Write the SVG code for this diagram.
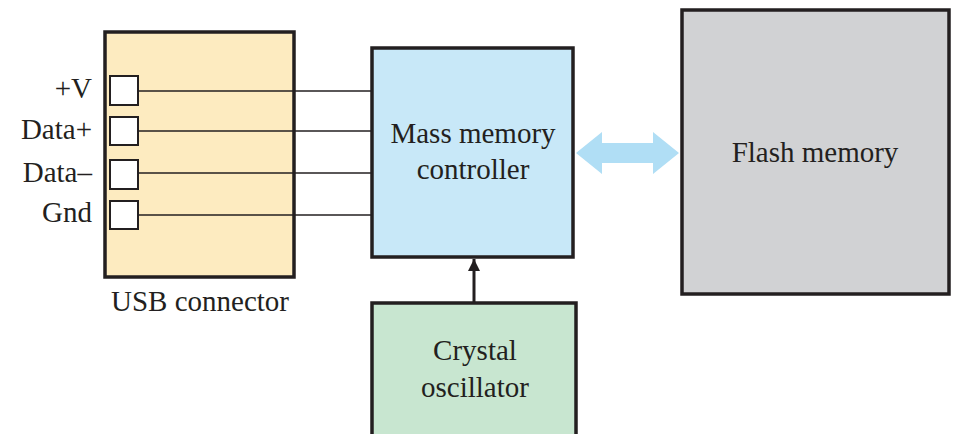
<svg xmlns="http://www.w3.org/2000/svg" width="956" height="434" viewBox="0 0 956 434" font-family="Liberation Serif, DejaVu Serif, serif" font-size="29" fill="#231f20">
<style>
.box{stroke:#231f20;stroke-width:3.5}
.pin{fill:#fff;stroke:#231f20;stroke-width:2}
.wire{stroke:#231f20;stroke-width:1.6;fill:none}
.c{text-anchor:middle}
.r{text-anchor:end}
</style>
<defs>
<marker id="ah" viewBox="0 0 12 16" refX="12" refY="8" markerWidth="12" markerHeight="16" markerUnits="userSpaceOnUse" orient="auto">
<path d="M0,2 L12,8 L0,14 Z" fill="#231f20"/>
</marker>
</defs>
<g id="usb">
<rect class="box" x="105" y="32" width="189" height="245" fill="#fdebc0"/>
<rect class="pin" x="110" y="76" width="28" height="29"/>
<rect class="pin" x="110" y="117" width="28" height="28"/>
<rect class="pin" x="110" y="160" width="28" height="29"/>
<rect class="pin" x="110" y="201" width="28" height="28"/>
<text class="r" x="92" y="98">+V</text>
<text class="r" x="92" y="139">Data+</text>
<text class="r" x="92" y="182">Data–</text>
<text class="r" x="92" y="222">Gnd</text>
<text class="c" x="200" y="311">USB connector</text>
</g>
<g id="controller">
<rect class="box" x="372" y="48" width="201" height="209" fill="#c8e8f8"/>
<text class="c" x="473" y="143">Mass memory</text>
<text class="c" x="473" y="179">controller</text>
</g>
<g id="flash">
<rect class="box" x="682" y="10" width="267" height="284" fill="#d1d2d4"/>
<text class="c" x="815" y="162">Flash memory</text>
</g>
<g id="crystal">
<rect class="box" x="372" y="303" width="204" height="140" fill="#c8e6d0"/>
<text class="c" x="475" y="360">Crystal</text>
<text class="c" x="475" y="397">oscillator</text>
</g>
<g id="connectors">
<line class="wire" x1="138" y1="91" x2="372" y2="91"/>
<line class="wire" x1="138" y1="131" x2="372" y2="131"/>
<line class="wire" x1="138" y1="173" x2="372" y2="173"/>
<line class="wire" x1="138" y1="215" x2="372" y2="215"/>
<line x1="474" y1="302" x2="474" y2="259" stroke="#231f20" stroke-width="3" marker-end="url(#ah)"/>
<path d="M576,153 L602,132 L602,143 L653,143 L653,132 L679,153 L653,174 L653,163 L602,163 L602,174 Z" fill="#b0def5"/>
</g>
</svg>
